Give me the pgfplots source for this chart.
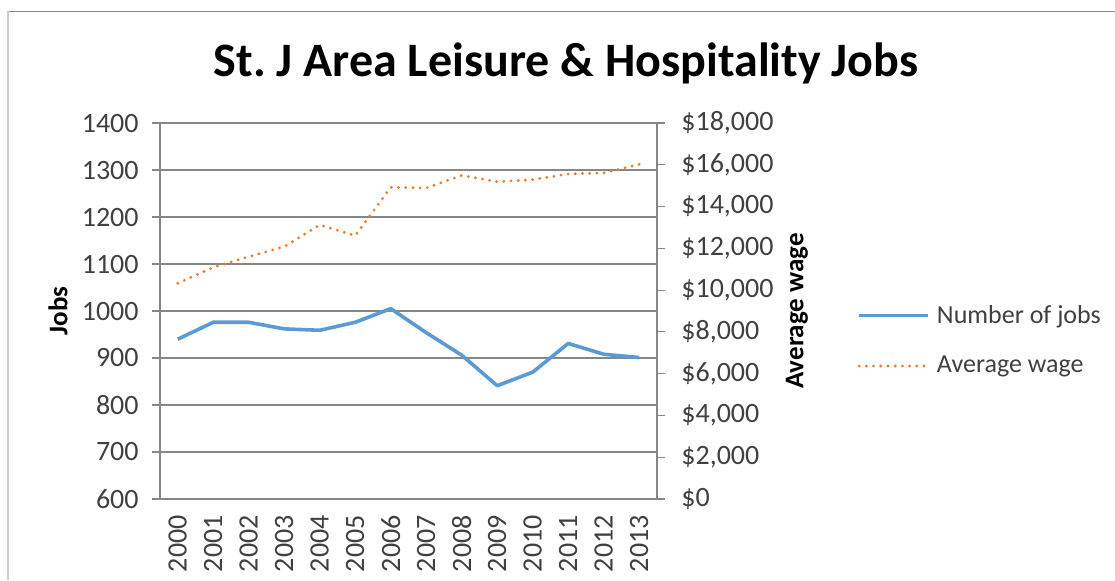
\documentclass[border=0pt]{standalone}
\usepackage{fontspec}
\setmainfont{Carlito}
\usepackage{pgfplots}
\pgfplotsset{compat=1.18}
\usepackage{pgfplotstable}

\definecolor{jobsblue}{RGB}{91,155,213}
\definecolor{wageorange}{RGB}{237,125,49}
\definecolor{axisgray}{RGB}{134,134,134}
\definecolor{ticktext}{RGB}{64,64,64}

% years are plotted at 0..13
\pgfplotstableread{
x jobs
0 940
1 976
2 976
3 962
4 959
5 976
6 1005
7 954
8 906
9 841
10 870
11 931
12 908
13 901
}\jobstable

\pgfplotstableread{
x wage
0 10330
1 11090
2 11600
3 12080
4 13120
5 12610
6 14920
7 14890
8 15490
9 15190
10 15290
11 15560
12 15610
13 16020
}\wagetable

\pgfplotsset{
  common/.style={
    scale only axis,
    width=248.5pt, height=188pt,
    at={(80pt,40.5pt)}, anchor=south west,
    xmin=-0.5, xmax=13.5,
    axis line style={axisgray, line width=0.6pt},
    tick style={axisgray, line width=0.6pt},
    tick align=outside,
    major tick length=4pt,
    minor tick length=3.5pt,
    tick label style={font=\fontsize{14}{16}\selectfont, text=ticktext},
    label style={font=\fontsize{13.5}{16}\selectfont\bfseries, text=black},
    /pgf/number format/assume math mode=true,
  }
}

\begin{document}
\begin{tikzpicture}
\useasboundingbox (0,0) rectangle (557.5pt,290pt);

\begin{axis}[
  common,
  axis y line*=left,
  axis x line*=bottom,
  ymin=600, ymax=1400,
  ytick distance=100,
  ymajorgrids,
  grid style={axisgray, line width=0.6pt},
  /pgf/number format/1000 sep={},
  xtick={0,...,13},
  xticklabels={2000,2001,2002,2003,2004,2005,2006,2007,2008,2009,2010,2011,2012,2013},
  xtick style={draw=none},
  minor xtick={-0.5,0.5,...,13.5},
  x tick label style={rotate=90, anchor=east, inner sep=0pt, xshift=-4pt},
  y tick label style={anchor=east, inner sep=0pt, xshift=-6.5pt},
  ylabel={Jobs},
  y label style={at={(axis description cs:-0.2052,0.5)}, anchor=center},
]
\addplot[jobsblue, line width=1.8pt, line join=round] table[x=x, y=jobs] {\jobstable};
\end{axis}

\begin{axis}[
  common,
  axis y line*=right,
  axis x line=none,
  ymin=0, ymax=18000,
  ytick distance=2000,
  scaled y ticks=false,
  yticklabel={\$\pgfmathprintnumber[fixed, precision=0, 1000 sep={,}]{\tick}},
  y tick label style={anchor=west, inner sep=0pt, xshift=8pt},
  ylabel={Average wage},
  y label style={at={(axis description cs:1.2817,0.5)}, anchor=center, rotate=0},
  legend style={
    at={(axis description cs:1.4024,0.4215)}, anchor=west,
    draw=none, fill=none, inner sep=0pt,
    font=\fontsize{13}{15}\selectfont, text=ticktext,
    row sep=15pt,
    nodes={inner sep=0pt, anchor=west},
  },
  legend cell align=left,
  legend image code/.code={\draw[#1] (0pt,0pt) -- (34.5pt,0pt);},
]
\addlegendimage{jobsblue, line width=1.8pt}
\addlegendentry{\hspace{3.5pt}Number of jobs}
\addplot[wageorange, line width=1.6pt, line cap=round, dash pattern=on 0pt off 3.6pt] table[x=x, y=wage] {\wagetable};
\addlegendentry{\hspace{3.5pt}Average wage}
\end{axis}

\node[font=\fontsize{24}{28}\selectfont\bfseries, anchor=base] at (283pt,251.5pt) {St.\ J Area Leisure \& Hospitality Jobs};
\draw[axisgray, line width=0.6pt] (4pt,284.25pt) -- (557.5pt,284.25pt);
\draw[black!20, line width=0.6pt] (4pt,0pt) -- (4pt,284.25pt);
\end{tikzpicture}
\end{document}
